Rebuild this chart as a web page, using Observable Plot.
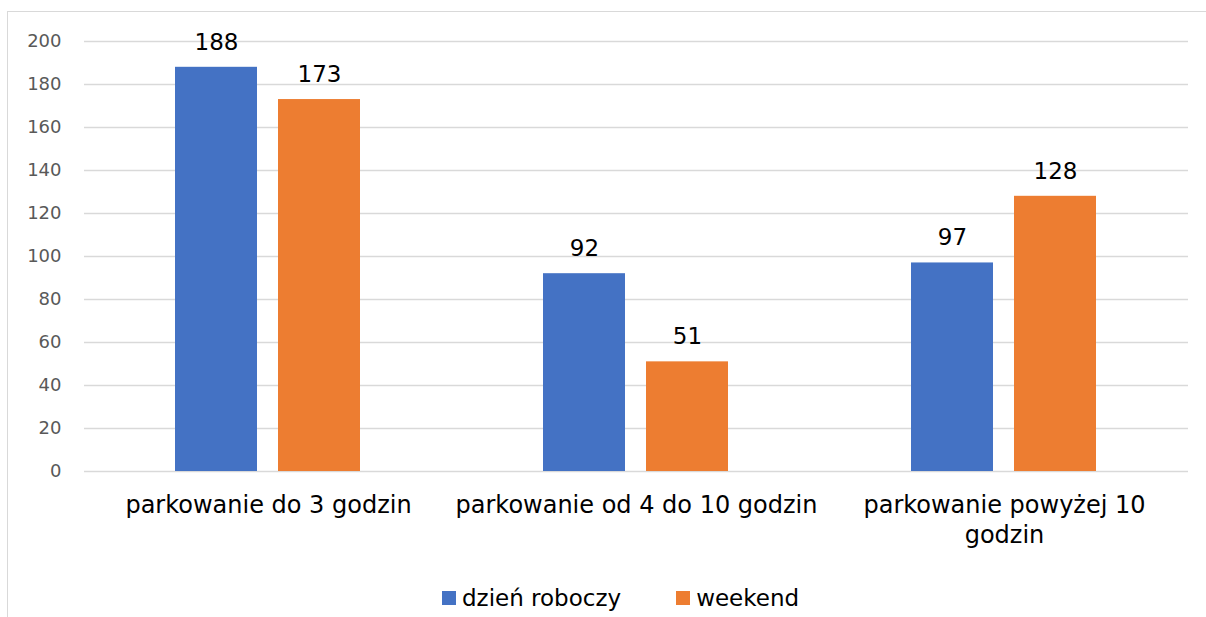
<!DOCTYPE html>
<html>
<head>
<meta charset="utf-8">
<script src="https://cdn.jsdelivr.net/npm/d3@7"></script>
<script src="https://cdn.jsdelivr.net/npm/@observablehq/plot@0.6"></script>
<style>
  html, body { margin: 0; padding: 0; background: #fff; overflow: hidden; }
  body { font-family: "DejaVu Sans", Verdana, sans-serif; width: 1206px; height: 617px; position: relative; }
  #frame { position: absolute; left: 7px; top: 11px; width: 1300px; height: 700px; border: 1px solid #d9d9d9; pointer-events: none; }
  #chart { position: absolute; left: 0; top: 0; }
  #legend { position: absolute; left: 442px; top: 583px; display: flex; align-items: center; font-size: 23px; color: #000; line-height: 30px; white-space: nowrap; }
  .item { display: flex; align-items: center; }
  .sw { width: 14px; height: 14px; display: inline-block; margin-right: 6px; }
</style>
</head>
<body>
<div id="chart"></div>
<div id="legend"></div>
<div id="frame"></div>
<script>
const categories = ["parkowanie do 3 godzin", "parkowanie od 4 do 10 godzin", "parkowanie powyżej 10 godzin"];
const categoryLabels = ["parkowanie do 3 godzin", "parkowanie od 4 do 10 godzin", "parkowanie powyżej 10\ngodzin"];
const seriesNames = ["dzień roboczy", "weekend"];
const weekdayValues = [188, 92, 97];
const weekendValues = [173, 51, 128];
const yTicks = [0, 20, 40, 60, 80, 100, 120, 140, 160, 180, 200];
const colors = ["#4472C4", "#ED7D31"];

const rows = categories.flatMap((c, i) => [
  {category: c, series: seriesNames[0], value: weekdayValues[i]},
  {category: c, series: seriesNames[1], value: weekendValues[i]}
]);

const chart = Plot.plot({
  width: 1206,
  height: 575,
  marginLeft: 83,
  marginRight: 18,
  marginTop: 41,
  marginBottom: 104,
  style: {fontFamily: '"DejaVu Sans", Verdana, sans-serif', background: "transparent"},
  fx: {domain: categories, padding: 0},
  x: {domain: seriesNames, paddingInner: 0.2, paddingOuter: 0.87, axis: null},
  y: {domain: [0, 200]},
  color: {domain: seriesNames, range: colors},
  marks: [
    Plot.gridY({ticks: yTicks, stroke: "#d9d9d9", strokeOpacity: 1, strokeWidth: 1.5}),
    Plot.axisY({ticks: yTicks, tickSize: 0, tickPadding: 23, fontSize: 18, color: "#595959", label: null}),
    Plot.axisFx({anchor: "bottom", tickSize: 0, tickPadding: 20, fontSize: 24, lineHeight: 1.25, color: "#000",
      label: null, tickFormat: d => categoryLabels[categories.indexOf(d)]}),
    Plot.barY(rows, {fx: "category", x: "series", y: "value", fill: "series"}),
    Plot.text(rows, {fx: "category", x: "series", y: "value", text: d => String(d.value), dy: -25, fontSize: 23, fill: "#000"})
  ]
});
document.getElementById("chart").appendChild(chart);

const legend = document.getElementById("legend");
seriesNames.forEach((s, i) => {
  const item = document.createElement("div");
  item.className = "item";
  if (i > 0) item.style.marginLeft = "55px";
  const sw = document.createElement("span");
  sw.className = "sw";
  sw.style.background = colors[i];
  const t = document.createElement("span");
  t.textContent = s;
  item.appendChild(sw);
  item.appendChild(t);
  legend.appendChild(item);
});
</script>
</body>
</html>
